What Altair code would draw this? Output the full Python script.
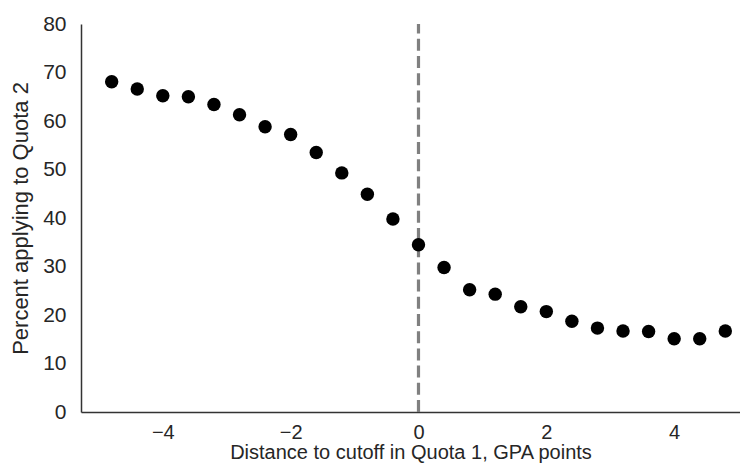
import altair as alt
import pandas as pd

distance = [-4.8, -4.4, -4.0, -3.6, -3.2, -2.8, -2.4, -2.0, -1.6, -1.2, -0.8, -0.4,
            0.0, 0.4, 0.8, 1.2, 1.6, 2.0, 2.4, 2.8, 3.2, 3.6, 4.0, 4.4, 4.8]
percent = [68.1, 66.6, 65.2, 65.0, 63.4, 61.3, 58.8, 57.2, 53.5, 49.3, 44.9, 39.8,
           34.5, 29.8, 25.2, 24.3, 21.7, 20.7, 18.7, 17.3, 16.7, 16.6, 15.1, 15.1, 16.7]
cutoff = [0.0]
y_range = [0, 80]

df = pd.DataFrame({"x": distance, "y": percent})
cut = pd.DataFrame({"x": cutoff, "y0": [y_range[0]], "y1": [y_range[1]]})

FONT = "Liberation Sans"
TXT = "#262626"

xscale = alt.Scale(domain=[-5.28, 5.03], nice=False, zero=False)
yscale = alt.Scale(domain=y_range, nice=False)

points = alt.Chart(df).mark_circle(size=180, color="black", opacity=1).encode(
    x=alt.X("x:Q", scale=xscale,
            axis=alt.Axis(title="Distance to cutoff in Quota 1, GPA points",
                          values=[-4, -2, 0, 2, 4], grid=False, ticks=False,
                          labelPadding=10, labelFontSize=20,
                          titlePadding=0, titleFontSize=20,
                          format="d")),
    y=alt.Y("y:Q", scale=yscale,
            axis=alt.Axis(title="Percent applying to Quota 2",
                          values=[0, 10, 20, 30, 40, 50, 60, 70, 80], grid=False,
                          ticks=False, labelPadding=15, titlePadding=10)),
)

rule = alt.Chart(cut).mark_rule(color="#808080", strokeWidth=3.2,
                                strokeDash=[12, 5.2]).encode(
    x=alt.X("x:Q", scale=xscale),
    y=alt.Y("y0:Q", scale=yscale),
    y2="y1:Q",
)

chart = (rule + points).properties(
    width=659, height=388,
    padding={"left": 73, "top": 16, "right": 0, "bottom": 53},
    autosize=alt.AutoSizeParams(type="none"),
).configure_view(stroke=None).configure_axis(
    labelFont=FONT, titleFont=FONT, labelFontSize=21, titleFontSize=22,
    labelColor=TXT, titleColor=TXT, titleFontWeight="normal",
    domainColor="#333333", domainWidth=1.5, labelFlush=False,
)

chart.save("out.html", embed_options={"renderer": "svg", "actions": False})
